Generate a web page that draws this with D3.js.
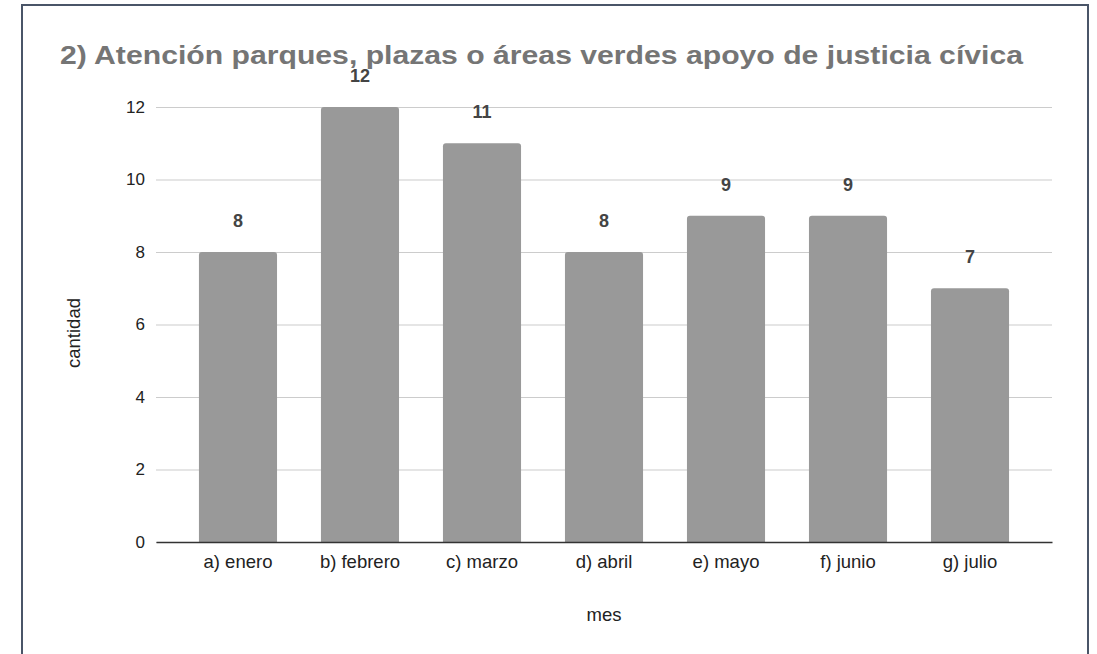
<!DOCTYPE html>
<html lang="es">
<head>
    <meta charset="UTF-8">
    <title>Atención parques</title>
    <script src="https://d3js.org/d3.v7.min.js"></script>
    <style>
        body { margin: 0; background: #fff; }
        text { font-family: "Liberation Sans", Arial, sans-serif; }
    </style>
</head>
<body>
    <svg width="1097" height="654" id="mainsvg"></svg>

    <script>
        // datos
        const meses = ['a) enero', 'b) febrero', 'c) marzo', 'd) abril', 'e) mayo', 'f) junio', 'g) julio'];
        const cantidad = [8, 12, 11, 8, 9, 9, 7];
        const yTicks = [0, 2, 4, 6, 8, 10, 12];
        const titulo = '2) Atención parques, plazas o áreas verdes apoyo de justicia cívica';

        const data = meses.map((m, i) => ({name: m, value: cantidad[i]}));

        const svg = d3.select('#mainsvg');
        const margin = {top: 107, right: 45, bottom: 112, left: 156};
        const innerWidth = 1052 - margin.left;
        const innerHeight = 542 - margin.top;

        // marco
        svg.append('path')
            .attr('d', `M22,654 L22,5 L1088,5 L1088,654`)
            .attr('fill', 'none')
            .attr('stroke', '#4a5568')
            .attr('stroke-width', 2);

        const g = svg.append('g').attr('transform', `translate(${margin.left},${margin.top})`);

        const xScale = d3.scaleBand().domain(meses).range([0, innerWidth])
            .paddingInner(0.36).paddingOuter(0.352);
        const yScale = d3.scaleLinear().domain([0, 12]).range([innerHeight, 0]);

        // rejilla + eje y
        const yAxis = d3.axisLeft(yScale).tickValues(yTicks).tickSize(-innerWidth).tickPadding(11);
        const ya = g.append('g').call(yAxis);
        ya.select('.domain').remove();
        ya.selectAll('.tick line').attr('stroke', '#cccccc').attr('stroke-width', 1.2);
        ya.selectAll('.tick text').attr('font-size', '17px').attr('fill', '#222');

        // barras con esquinas superiores redondeadas
        const r = 3;
        g.selectAll('path.bar').data(data).join('path')
            .attr('class', 'bar')
            .attr('fill', '#999999')
            .attr('d', d => {
                const x0 = xScale(d.name), x1 = x0 + xScale.bandwidth();
                const y0 = yScale(d.value), y1 = yScale(0);
                return `M${x0},${y1} L${x0},${y0 + r} Q${x0},${y0} ${x0 + r},${y0} L${x1 - r},${y0} Q${x1},${y0} ${x1},${y0 + r} L${x1},${y1} Z`;
            });

        // etiquetas de valor
        g.selectAll('text.val').data(data).join('text')
            .attr('class', 'val')
            .attr('x', d => xScale(d.name) + xScale.bandwidth() / 2)
            .attr('y', d => yScale(d.value) - 25)
            .attr('text-anchor', 'middle')
            .attr('font-size', '18px')
            .attr('font-weight', 'bold')
            .attr('fill', '#444')
            .text(d => d.value);

        // eje x
        const xAxis = d3.axisBottom(xScale).tickSize(0).tickPadding(13);
        const xa = g.append('g').attr('transform', `translate(0,${innerHeight})`).call(xAxis);
        xa.select('.domain').attr('stroke', '#333').attr('stroke-width', 1.5);
        xa.selectAll('.tick text').attr('font-size', '18.5px').attr('fill', '#222');

        // titulo
        svg.append('text')
            .attr('x', 541.5).attr('y', 64)
            .attr('text-anchor', 'middle')
            .attr('font-size', '25.5px')
            .attr('font-weight', 'bold')
            .attr('fill', '#757575')
            .attr('textLength', 963)
            .attr('lengthAdjust', 'spacingAndGlyphs')
            .text(titulo);

        // titulos de ejes
        svg.append('text')
            .attr('x', margin.left + innerWidth / 2).attr('y', 621)
            .attr('text-anchor', 'middle')
            .attr('font-size', '18.5px')
            .attr('fill', '#222')
            .text('mes');

        svg.append('text')
            .attr('transform', 'translate(80,333) rotate(-90)')
            .attr('text-anchor', 'middle')
            .attr('font-size', '18.5px')
            .attr('fill', '#222')
            .text('cantidad');
    </script>
</body>
</html>
